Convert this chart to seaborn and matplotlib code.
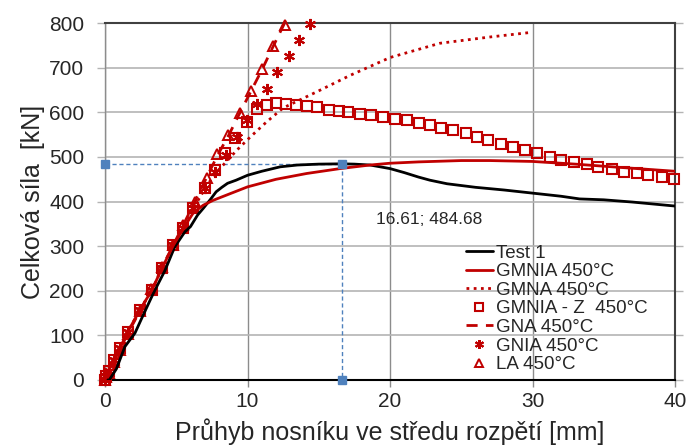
import numpy as np
import pandas as pd
import matplotlib
matplotlib.use('Agg')
import matplotlib.pyplot as plt
import seaborn as sns


# Test 1 (black measured curve)
test_x = [0, 0.3, 0.8, 1.4, 2.1, 2.6, 3.4, 4.2, 4.9, 5.6, 6.0, 6.5, 6.9, 7.4, 7.8, 8.2, 8.6, 9.2,
          10.0, 11.0, 12.3, 13.5, 15.0, 16.61, 17.5, 18.6, 20.0, 21.0, 22.0, 22.8, 24.0, 26.0,
          28.0, 30.0, 32.0, 33.3, 35.0, 37.0, 40.0]
test_y = [0, 0, 25, 75, 105, 140, 195, 245, 299, 332, 344, 370, 385, 405, 422, 432, 441, 448,
          459, 468, 478, 482, 484, 484.68, 484, 482, 474, 465, 455, 448, 440, 432,
          426, 419, 412, 406, 404, 399, 390]

# GMNIA 450°C (solid red)
gmnia_x = [0, 0.25, 0.6, 1.05, 1.6, 2.45, 3.3, 4.0, 4.8, 5.5, 6.2, 6.9, 7.6, 8.8, 10.0, 12.0,
           14.15, 16.5, 18.6, 20.0, 22.0, 25.0, 27.0, 30.0, 33.0, 36.0, 40.0]
gmnia_y = [0, 20, 45, 72, 108, 157, 202, 251, 302, 340, 375, 392, 403, 418, 433, 450,
           463, 474, 482, 486, 489, 492, 492, 490, 484, 477, 468]

# GMNA 450°C (dotted red)
gmna_x = [0, 0.25, 0.6, 1.05, 1.6, 2.45, 3.3, 4.0, 4.8, 5.5, 6.2, 7.0, 7.7, 8.5, 9.24, 10.2,
          11.35, 12.5, 14.85, 17.2, 20.0, 23.5, 27.0, 29.8]
gmna_y = [0, 20, 45, 72, 108, 157, 202, 251, 302, 340, 385, 428, 462, 489, 515, 545,
          579, 610, 646, 683, 723, 755, 769, 779]

# GMNIA - Z 450°C (open squares)
gmniaz_x = [0, 0.1, 0.25, 0.6, 1.05, 1.6, 2.45, 3.3, 4.0, 4.8, 5.5, 6.2, 7.0, 7.7, 8.4, 9.1,
            9.95, 10.65, 11.35, 12.0, 12.7, 13.4, 14.15, 14.85, 15.7, 16.4, 17.08, 17.9, 18.7,
            19.5, 20.35, 21.2, 22.0, 22.8, 23.6, 24.4, 25.3, 26.1, 26.9, 27.8, 28.65, 29.5,
            30.3, 31.2, 32.0, 32.9, 33.8, 34.6, 35.6, 36.4, 37.3, 38.1, 39.1, 39.9]
gmniaz_y = [0, 8, 20, 45, 72, 108, 157, 202, 251, 302, 340, 385, 430, 471, 508, 542,
            579, 608, 616, 620, 618, 616, 614, 611, 606, 603, 601, 597, 594,
            590, 586, 583, 577, 571, 566, 560, 553, 545, 538, 530, 523, 515,
            508, 500, 494, 489, 484, 478, 472, 467, 463, 459, 455, 451]

# GNA 450°C (dashed red)
gna_x = [0, 0.6, 1.6, 2.45, 3.3, 4.0, 4.8, 5.5, 6.3, 7.1, 7.9, 8.7, 9.45, 10.25, 11.05, 11.8, 12.6]
gna_y = [0, 40, 104, 155, 205, 253, 303, 348, 400, 452, 504, 550, 598, 648, 698, 748, 800]

# GNIA 450°C (asterisks)
gnia_x = [0, 0.1, 0.25, 0.6, 1.05, 1.6, 2.45, 3.3, 4.0, 4.8, 5.5, 6.2, 7.0, 7.7, 8.5, 9.24,
          9.95, 10.65, 11.4, 12.1, 12.9, 13.6, 14.4]
gnia_y = [0, 8, 20, 45, 72, 108, 157, 202, 251, 302, 340, 385, 430, 467, 504, 545,
          583, 618, 653, 691, 726, 762, 798]

# LA 450°C (open triangles)
la_x = [0, 0.1, 0.25, 0.6, 1.05, 1.6, 2.45, 3.25, 4.0, 4.8, 5.5, 6.3, 7.15, 7.85, 8.65, 9.45,
        10.25, 11.05, 11.8, 12.6]
la_y = [0, 6, 16, 40, 68, 104, 155, 205, 253, 303, 348, 400, 452, 506, 550, 598,
        648, 698, 748, 797]

# max point of the test
peak_x = 16.61
peak_y = 484.68

RED = '#c00000'
BLUE = '#4f81bd'

sns.set_theme(style='white')
plt.rcParams['font.family'] = ['Liberation Sans', 'DejaVu Sans']

fig = plt.figure(figsize=(6.89, 4.46), dpi=100)
ax = fig.add_axes([0.1524, 0.148, 0.8273, 0.8])

# blue dashed guides to the peak
ax.plot([0, peak_x], [peak_y, peak_y], color=BLUE, lw=1, ls=(0, (3, 2)), zorder=1)
ax.plot([peak_x, peak_x], [peak_y, 0], color=BLUE, lw=1, ls=(0, (3, 2)), zorder=1)
ax.plot([0, peak_x, peak_x], [peak_y, peak_y, 0], color=BLUE, ls='', marker='s', ms=5.5,
        zorder=5, clip_on=False)

sns.lineplot(x=test_x, y=test_y, ax=ax, color='black', lw=2, sort=False, estimator=None,
             label='Test 1', zorder=4)
sns.lineplot(x=gmnia_x, y=gmnia_y, ax=ax, color=RED, lw=2, sort=False, estimator=None,
             label='GMNIA 450°C', zorder=4)
sns.lineplot(x=gmna_x, y=gmna_y, ax=ax, color=RED, lw=2, ls=(0, (1, 1.6)), sort=False,
             estimator=None, label='GMNA 450°C', zorder=3)
sns.lineplot(x=gmniaz_x, y=gmniaz_y, ax=ax, color=RED, ls='', marker='s', ms=6.8,
             markerfacecolor='none', markeredgecolor=RED, markeredgewidth=1.5, sort=False,
             estimator=None, label='GMNIA - Z  450°C', zorder=3, clip_on=False)
sns.lineplot(x=gna_x, y=gna_y, ax=ax, color=RED, lw=2, ls=(0, (4, 3)), sort=False,
             estimator=None, label='GNA 450°C', zorder=3)
sns.lineplot(x=gnia_x, y=gnia_y, ax=ax, color=RED, ls='', marker=(6, 2, 0), ms=8,
             markeredgecolor=RED, markeredgewidth=1.5, sort=False, estimator=None,
             label='GNIA 450°C', zorder=3, clip_on=False)
sns.lineplot(x=la_x, y=la_y, ax=ax, color=RED, ls='', marker='^', ms=7,
             markerfacecolor='none', markeredgecolor=RED, markeredgewidth=1.4, sort=False,
             estimator=None, label='LA 450°C', zorder=3, clip_on=False)

ax.set_xlim(0, 40)
ax.set_ylim(0, 800)
ax.set_xticks([0, 10, 20, 30, 40])
ax.set_yticks(range(0, 801, 100))

ax.grid(True, axis='x', color='#8c8c8c', lw=1)
ax.grid(True, axis='y', color='#b4b4b4', lw=1.2)
ax.set_axisbelow(True)

for side in ['top', 'right']:
    ax.spines[side].set_color('#404040')
    ax.spines[side].set_linewidth(1.5)
ax.spines['bottom'].set_color('black')
ax.spines['bottom'].set_linewidth(1.5)
ax.spines['left'].set_color('#8c8c8c')
ax.spines['left'].set_linewidth(1)

ax.tick_params(axis='x', which='both', direction='out', length=5, width=1, color='#8c8c8c',
               labelsize=15, pad=4, bottom=True)
ax.tick_params(axis='y', which='both', direction='out', length=6, width=1, color='#b4b4b4',
               labelsize=15, pad=9, left=True, right=True)

ax.set_xlabel('Průhyb nosníku ve středu rozpětí [mm]', fontsize=18, labelpad=5)
ax.set_ylabel('Celková síla  [kN]', fontsize=18, labelpad=3)

ax.text(19.0, 360, '16.61; 484.68', fontsize=12.5, va='center', ha='left')

handles, labels = ax.get_legend_handles_labels()
keep = [i for i, l in enumerate(labels) if l and not l.startswith('_')]
ax.legend([handles[i] for i in keep], [labels[i] for i in keep], loc='upper left',
          bbox_to_anchor=(0.633, 0.38), frameon=False, fontsize=13.5, handlelength=1.45,
          handletextpad=0.15, labelspacing=0.08, borderpad=0, borderaxespad=0,
          markerscale=0.8)

fig.savefig('out.png', dpi=100)
